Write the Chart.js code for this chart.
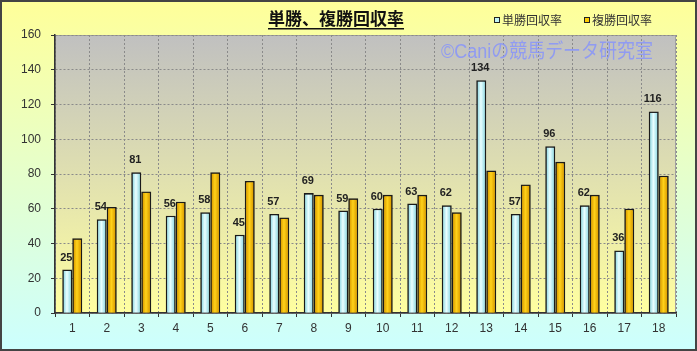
<!DOCTYPE html>
<html>
<head>
<meta charset="utf-8">
<script src="https://cdn.jsdelivr.net/npm/chart.js@4"></script>
<style>
  html, body { margin: 0; padding: 0; background: #fff; }
  #wrap { width: 697px; height: 351px; }
</style>
</head>
<body>
<div id="wrap"><canvas id="chart" width="697" height="351"></canvas></div>
<script>
// data
const categories = ['1','2','3','4','5','6','7','8','9','10','11','12','13','14','15','16','17','18'];
const winReturn = [25, 54, 81, 56, 58, 45, 57, 69, 59, 60, 63, 62, 134, 57, 96, 62, 36, 116];
const placeReturn = [43, 61, 70, 64, 81, 76, 55, 68, 66, 68, 68, 58, 82, 74, 87, 68, 60, 79];
const seriesNames = ['単勝回収率', '複勝回収率'];
const titleText = '単勝、複勝回収率';
const watermarkText = '©Caniの競馬データ研究室';

const BLUE = '#c2f4f6';
const GOLD = '#ffcc00';
// edge / centre shades for the rounded look of the bars
const shades = [['#98dce6', '#eaffff'], ['#dc9e00', '#ffd21a']];

// backgrounds, title, legend, watermark, value labels
const decor = {
  id: 'decor',
  beforeDraw(chart) {
    const { ctx, chartArea: a, width, height } = chart;
    ctx.save();
    let g = ctx.createLinearGradient(0, 0, 0, height);
    g.addColorStop(0, '#ffff99');
    g.addColorStop(1, '#ccffff');
    ctx.fillStyle = g;
    ctx.fillRect(0, 0, width, height);

    g = ctx.createLinearGradient(0, a.top, 0, a.bottom);
    g.addColorStop(0, '#c0c0c0');
    g.addColorStop(1, '#ffffa0');
    ctx.fillStyle = g;
    ctx.fillRect(a.left, a.top, a.right - a.left, a.bottom - a.top);
    ctx.strokeStyle = '#a0a0a0';
    ctx.lineWidth = 1;
    ctx.strokeRect(a.left + 0.5, a.top + 0.5, a.right - a.left - 1, a.bottom - a.top);
    ctx.restore();
  },
  beforeDatasetsDraw(chart) {
    const { ctx } = chart;
    ctx.save();
    ctx.font = '20px "Liberation Sans", "Noto Sans CJK JP", sans-serif';
    ctx.fillStyle = 'rgba(135, 148, 250, 0.85)';
    ctx.textAlign = 'left';
    ctx.textBaseline = 'middle';
    ctx.fillText(watermarkText, 441, 52, 212);
    ctx.restore();
  },
  afterDatasetsDraw(chart) {
    const { ctx } = chart;
    ctx.save();
    // shade inside each bar
    [0, 1].forEach((d) => {
      chart.getDatasetMeta(d).data.forEach((bar) => {
        const l = bar.x - bar.width / 2 + 1.5, r = bar.x + bar.width / 2 - 1.5;
        const g = ctx.createLinearGradient(l, 0, r, 0);
        g.addColorStop(0, shades[d][0]);
        g.addColorStop(0.45, shades[d][1]);
        g.addColorStop(1, shades[d][0]);
        ctx.fillStyle = g;
        ctx.fillRect(l, bar.y + 1.5, r - l, bar.base - bar.y - 1.5);
      });
    });

    const meta = chart.getDatasetMeta(0);
    ctx.font = 'bold 11px "Liberation Sans", sans-serif';
    ctx.fillStyle = '#222';
    ctx.textAlign = 'center';
    ctx.textBaseline = 'middle';
    meta.data.forEach((bar, i) => {
      ctx.fillText(String(winReturn[i]), bar.x - 1, bar.y - 12);
    });
    ctx.restore();
  },
  afterDraw(chart) {
    const { ctx, width, height } = chart;
    ctx.save();
    // title
    ctx.font = 'bold 17px "Noto Sans CJK JP", sans-serif';
    ctx.fillStyle = '#111';
    ctx.textAlign = 'left';
    ctx.textBaseline = 'middle';
    const tw = ctx.measureText(titleText).width;
    const tx = 336 - tw / 2;
    ctx.fillText(titleText, tx, 19);
    ctx.fillRect(tx, 28, tw, 1.5);

    // legend
    ctx.font = '12px "Noto Sans CJK JP", sans-serif';
    const items = [[494, BLUE], [584, GOLD]];
    items.forEach(([x, c], i) => {
      ctx.fillStyle = c;
      ctx.fillRect(x, 17, 6, 6);
      ctx.strokeStyle = '#222';
      ctx.lineWidth = 1;
      ctx.strokeRect(x + 0.5, 17.5, 5, 5);
      ctx.fillStyle = '#333';
      ctx.fillText(seriesNames[i], x + 8, 20);
    });

    // outer frame
    ctx.strokeStyle = '#444';
    ctx.lineWidth = 2;
    ctx.strokeRect(1, 1, width - 2, height - 2);
    ctx.restore();
  }
};

new Chart(document.getElementById('chart'), {
  type: 'bar',
  data: {
    labels: categories,
    datasets: [
      {
        label: seriesNames[0],
        data: winReturn,
        backgroundColor: BLUE,
        borderColor: '#1a1a1a',
        borderWidth: 1.8,
        barPercentage: 1,
        categoryPercentage: 0.58
      },
      {
        label: seriesNames[1],
        data: placeReturn,
        backgroundColor: GOLD,
        borderColor: '#1a1a1a',
        borderWidth: 1.8,
        barPercentage: 1,
        categoryPercentage: 0.58
      }
    ]
  },
  options: {
    responsive: false,
    animation: false,
    layout: { padding: { top: 35, right: 21, left: 0, bottom: 0 } },
    plugins: {
      legend: { display: false },
      title: { display: false },
      tooltip: { enabled: false }
    },
    scales: {
      x: {
        afterFit: (s) => { s.height = 38; },
        grid: { color: '#8a8a8a', tickLength: 4, tickColor: '#333', offset: true },
        border: { color: '#333', width: 1.5, dash: [2, 2] },
        ticks: { color: '#333', padding: 4, font: { family: 'Liberation Sans', size: 12 } }
      },
      y: {
        min: 0,
        max: 160,
        afterFit: (s) => { s.width = 55; },
        grid: { color: '#8a8a8a', tickLength: 4, tickColor: '#333' },
        border: { color: '#333', width: 1.5, dash: [2, 2] },
        ticks: { stepSize: 20, color: '#333', padding: 10, font: { family: 'Liberation Sans', size: 12 } }
      }
    }
  },
  plugins: [decor]
});
</script>
</body>
</html>
